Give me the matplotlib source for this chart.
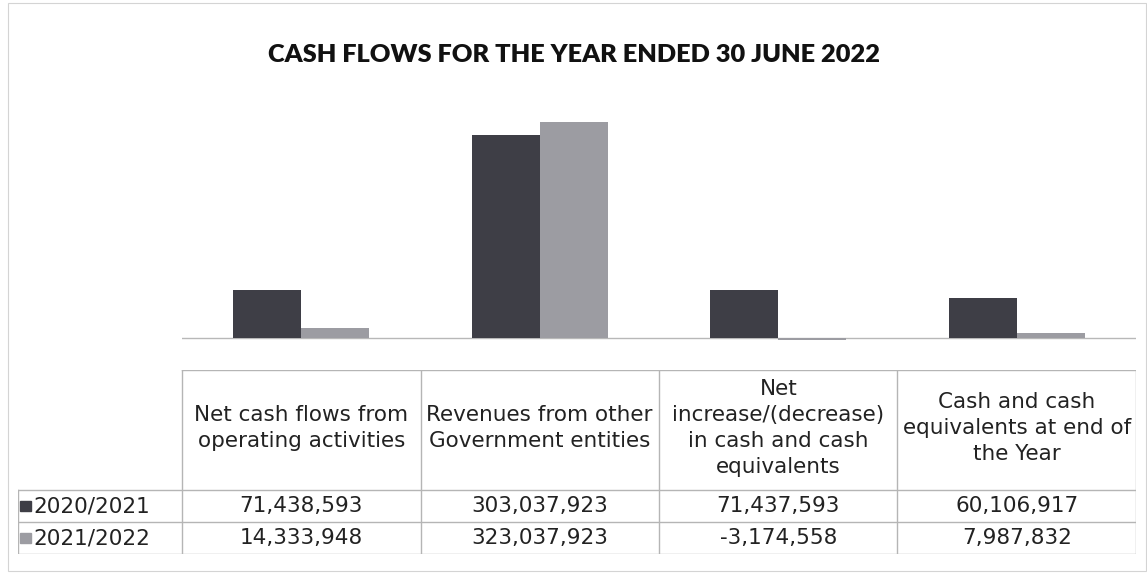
import numpy as np
import matplotlib
matplotlib.use("Agg")
import matplotlib.pyplot as plt
from matplotlib.patches import Rectangle

# data
categories = ["Net cash flows from\noperating activities",
              "Revenues from other\nGovernment entities",
              "Net\nincrease/(decrease)\nin cash and cash\nequivalents",
              "Cash and cash\nequivalents at end of\nthe Year"]
series_names = ["2020/2021", "2021/2022"]
vals_2021 = [71438593, 303037923, 71437593, 60106917]
vals_2022 = [14333948, 323037923, -3174558, 7987832]
colors = ["#3e3e46", "#9c9ca2"]

W, H = 1147, 574
fig = plt.figure(figsize=(W / 100, H / 100), dpi=100)
fig.patch.set_facecolor("white")

# light outer frame of the chart
fig.add_artist(Rectangle((8 / W, 3 / H), 1 - 9 / W, 1 - 6 / H, transform=fig.transFigure,
                         fill=False, edgecolor="#d4d4d4", linewidth=0.8))

fig.text(0.5, 1 - 55 / H, "CASH FLOWS FOR THE YEAR ENDED 30 JUNE 2022",
         ha="center", va="center", fontsize=18.3, fontweight="heavy", family="Lato", color="#111111")

# bar area
left, right = 182 / W, 1136 / W
ax = fig.add_axes([left, 1 - 341.3 / H, right - left, (341.3 - 104) / H])
x = np.arange(len(categories))
bw = 0.286
ax.bar(x - bw / 2, vals_2021, bw, color=colors[0], zorder=2)
ax.bar(x + bw / 2, vals_2022, bw, color=colors[1], zorder=2)
ax.axhline(0, color="#b8b8b8", lw=1, zorder=1)
ax.set_xlim(-0.5, len(categories) - 0.5)
ax.set_ylim(-5e6, 350e6)
ax.axis("off")

# data table
tleft = 18 / W
lab_w = (182 - 18) / 238.5  # label column width in category units
tax = fig.add_axes([tleft, 1 - 554 / H, right - tleft, (554 - 370) / H])
tax.set_xlim(-0.5 - lab_w, len(categories) - 0.5)
tax.set_ylim(554, 370)
tax.axis("off")
lc = "#b5b5b5"
xl = -0.5 - lab_w
xr = len(categories) - 0.5
# horizontal lines
tax.plot([-0.5, xr], [370, 370], color=lc, lw=1)
for yy in [490, 522, 554]:
    tax.plot([xl, xr], [yy, yy], color=lc, lw=1)
# vertical lines
for xx in np.arange(-0.5, xr + 0.01, 1.0):
    tax.plot([xx, xx], [370, 554], color=lc, lw=1)
tax.plot([xl, xl], [490, 554], color=lc, lw=1)

fs = 15.5
for i, c in enumerate(categories):
    tax.text(i, 428, c, ha="center", va="center", fontsize=fs, color="#222222", linespacing=1.38)
for r, (name, vals) in enumerate(zip(series_names, [vals_2021, vals_2022])):
    yc = 506 + 32 * r
    for i, v in enumerate(vals):
        tax.text(i, yc, f"{v:,}", ha="center", va="center", fontsize=fs, color="#222222")
    tax.add_patch(Rectangle((xl + 0.01, yc - 5), 0.045, 10, color=colors[r]))
    tax.text(xl + 0.065, yc, name, ha="left", va="center", fontsize=fs, color="#222222")

fig.savefig("out.png", dpi=100, facecolor="white")
